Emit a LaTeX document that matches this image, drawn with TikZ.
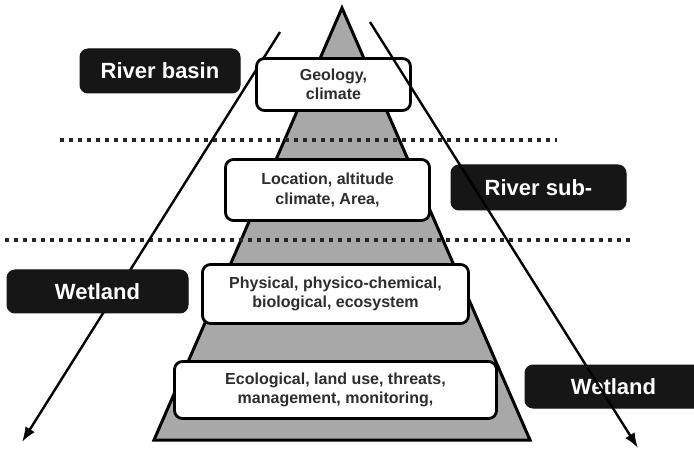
\documentclass[tikz,border=0pt]{standalone}
\usepackage{fontspec}
\setmainfont{Liberation Sans}
\usetikzlibrary{arrows.meta}

\definecolor{pyrfill}{RGB}{168,168,168}
\definecolor{darkbox}{RGB}{22,22,22}
\definecolor{boxtext}{RGB}{45,45,45}

\tikzset{
  levelbox/.style={draw=black, line width=2.8pt, rounded corners=8pt, fill=white,
    text=boxtext, inner sep=0pt, align=center,
    font=\fontsize{16}{19.5}\selectfont\bfseries},
  scalebox/.style={draw=darkbox, line width=1pt, rounded corners=8pt, fill=darkbox,
    text=white, inner sep=0pt,
    font=\fontsize{22}{25}\selectfont\bfseries},
  divider/.style={line width=3.8pt, dash pattern=on 4pt off 5pt, black!85},
  scalearrow/.style={line width=2.4pt, -{Latex[length=15pt,width=11pt]}}
}

\begin{document}
\begin{tikzpicture}[x=1pt,y=-1pt]
  \clip (0,0) rectangle (694,449);
  \fill[white] (0,0) rectangle (694,449);

  % pyramid
  \draw[line width=3pt, fill=pyrfill, line join=miter]
    (342,8) -- (154,440) -- (530,440) -- cycle;

  % level dividers
  \coordinate (d1a) at (60,140);  \coordinate (d1b) at (557,140);
  \coordinate (d2a) at (5,240);   \coordinate (d2b) at (631,240);
  \draw[divider] (d1a) -- (d1b);
  \draw[divider] (d2a) -- (d2b);

  % scale arrows
  \coordinate (ls) at (280,32);  \coordinate (le) at (22,442);
  \coordinate (rs) at (370,22);  \coordinate (re) at (638,448);
  \draw[scalearrow] (ls) -- (le);

  % attribute boxes on the pyramid
  \node[levelbox, minimum width=154pt, minimum height=52pt] (geo) at (333.5,84.5)
    {Geology,\\climate};
  \node[levelbox, minimum width=204pt, minimum height=61pt] (loc) at (327.5,190)
    {Location, altitude\\climate, Area,};
  \node[levelbox, minimum width=266pt, minimum height=59pt] (phy) at (335.5,294)
    {Physical, physico-chemical,\\biological, ecosystem};
  \node[levelbox, minimum width=322pt, minimum height=57pt] (eco) at (335.5,390)
    {Ecological, land use, threats,\\management, monitoring,};

  % scale labels
  \node[scalebox, minimum width=160pt, minimum height=44pt] (basin) at (160,71) {River basin};
  \node[scalebox, minimum width=175pt, minimum height=45pt] (sub) at (538.5,187.5) {River sub-};
  \node[scalebox, minimum width=181pt, minimum height=43pt] (wetl) at (97.5,291.5) {Wetland};
  \node[scalebox, minimum width=177pt, minimum height=43pt] (wetr) at (613.5,386.5) {Wetland};

  \draw[scalearrow] (rs) -- (re);
\end{tikzpicture}
\end{document}
